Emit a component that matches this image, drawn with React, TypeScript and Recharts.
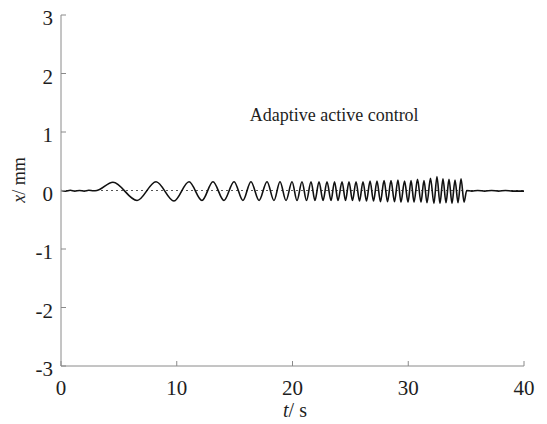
import React from "react";
import { LineChart, Line, XAxis, YAxis, ReferenceLine, ReferenceDot, Label } from "recharts";

// displacement record (extrema of the chirp response)
const timeS = [
  0, 0.4, 0.8, 1.2, 1.6, 2.0, 2.4, 2.8, 3.1,
  4.49, 6.57, 8.21, 9.76, 11.06, 12.18, 13.13, 14.08, 14.95, 15.72,
  16.41, 17.11, 17.8, 18.4, 18.92, 19.44, 19.96, 20.39, 20.82, 21.21,
  21.6, 21.94, 22.29, 22.64, 22.98, 23.33, 23.63, 23.93, 24.28, 24.58,
  24.88, 25.18, 25.49, 25.79, 26.09, 26.39, 26.7, 27.0, 27.3, 27.6,
  27.91, 28.21, 28.51, 28.81, 29.11, 29.37, 29.68, 29.98, 30.24, 30.5,
  30.8, 31.1, 31.36, 31.62, 31.92, 32.22, 32.48, 32.74, 33.0, 33.26,
  33.52, 33.78, 34.04, 34.3, 34.56, 34.82,
  35.05, 35.5, 36.0, 36.6, 37.2, 37.8, 38.4, 39.0, 39.5, 40,
];
const dispMm = [
  0, -0.01, 0.005, -0.01, 0, -0.01, 0.005, -0.005, 0,
  0.14, -0.17, 0.15, -0.18, 0.15, -0.17, 0.15, -0.17, 0.15, -0.17,
  0.15, -0.17, 0.15, -0.17, 0.15, -0.17, 0.15, -0.17, 0.15, -0.17,
  0.15, -0.17, 0.15, -0.17, 0.15, -0.17, 0.15, -0.17, 0.15, -0.17,
  0.15, -0.17, 0.15, -0.18, 0.15, -0.18, 0.16, -0.18, 0.16, -0.19,
  0.17, -0.19, 0.17, -0.19, 0.18, -0.2, 0.16, -0.2, 0.17, -0.2,
  0.19, -0.2, 0.17, -0.21, 0.21, -0.22, 0.24, -0.22, 0.2, -0.21,
  0.19, -0.22, 0.18, -0.21, 0.2, -0.2,
  0, -0.01, 0, -0.01, 0, -0.01, 0, -0.01, -0.01, -0.01,
];

const xTicks = [0, 10, 20, 30, 40];
const yTicks = [-3, -2, -1, 0, 1, 2, 3];

const data = timeS.map((t, i) => ({ t, x: dispMm[i] }));

const FONT = "'Liberation Serif', 'Times New Roman', serif";
const AXIS = "#8a8a8a";
const TEXT = "#1e1e1e";

function XTick({ x, y, payload }: any) {
  return (
    <text x={x} y={y} dy={15} textAnchor="middle" fontFamily={FONT} fontSize={21} fill={TEXT}>
      {payload.value}
    </text>
  );
}

function YTick({ x, y, payload }: any) {
  return (
    <text x={x} y={y} dy={10} textAnchor="end" fontFamily={FONT} fontSize={21} fill={TEXT}>
      {payload.value}
    </text>
  );
}

export default function App() {
  return (
    <div style={{ position: "absolute", left: 0, top: 0, background: "#fff" }}>
      <LineChart
        width={547}
        height={424}
        data={data}
        margin={{ top: 15, right: 23, bottom: 28, left: 16 }}
      >
        <XAxis
          dataKey="t"
          type="number"
          domain={[0, 40]}
          ticks={xTicks}
          height={30}
          stroke={AXIS}
          tickSize={-5}
          tickMargin={19}
          tick={<XTick />}
        >
          <Label
            content={() => (
              <text x={295} y={417} textAnchor="middle" fontFamily={FONT} fontSize={20} fill={TEXT}>
                <tspan fontStyle="italic">t</tspan>
                <tspan>/ s</tspan>
              </text>
            )}
          />
        </XAxis>
        <YAxis
          type="number"
          domain={[-3, 3]}
          ticks={yTicks}
          width={45}
          stroke={AXIS}
          tickSize={-5}
          tickMargin={13}
          tick={<YTick />}
        >
          <Label
            content={() => (
              <text
                x={0}
                y={0}
                transform="translate(25,180) rotate(-90)"
                textAnchor="middle"
                fontFamily={FONT}
                fontSize={18}
                fill={TEXT}
              >
                <tspan fontStyle="italic">x</tspan>
                <tspan>/ mm</tspan>
              </text>
            )}
          />
        </YAxis>
        <ReferenceLine y={0} stroke="#555" strokeDasharray="2 3" strokeWidth={1} />
        <ReferenceDot
          x={23.6}
          y={1.3}
          r={0}
          stroke="none"
          fill="none"
          label={{
            value: "Adaptive active control",
            position: "center",
            fontFamily: FONT,
            fontSize: 18,
            fill: TEXT,
          }}
        />
        <Line
          type="monotone"
          dataKey="x"
          stroke="#111"
          strokeWidth={1.6}
          dot={false}
          isAnimationActive={false}
        />
      </LineChart>
    </div>
  );
}
